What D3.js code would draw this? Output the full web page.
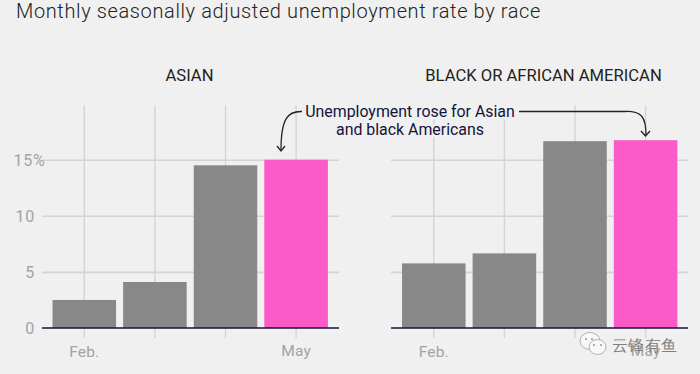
<!DOCTYPE html>
<html><head><meta charset="utf-8">
<script src="https://cdn.jsdelivr.net/npm/d3@7"></script>
<style>
html,body{margin:0;padding:0;background:#f0f0f0;overflow:hidden}
svg{display:block}
text{font-family:Roboto,"Liberation Sans",sans-serif}
</style></head><body>
<svg id="c" width="700" height="374"></svg>
<script>
const months = ["Feb.", "Mar.", "Apr.", "May"];
const monthLabels = ["Feb.", "", "", "May"];
const panelTitles = ["ASIAN", "BLACK OR AFRICAN AMERICAN"];
const asianValues = [2.5, 4.1, 14.5, 15.0];
const blackValues = [5.76, 6.65, 16.65, 16.74];
const yTicks = [0, 5, 10, 15];
const title = "Monthly seasonally adjusted unemployment rate by race";
const noteLines = ["Unemployment rose for Asian", "and black Americans"];
const watermark = "云锋有鱼";

const svg = d3.select("#c");
const ink = "#14143c", grid = "#d4d4d4", tickText = "#a3a3a3", barGrey = "#888888", pink = "#fb5ac8";
svg.append("rect").attr("width",700).attr("height",374).attr("fill","#f0f0f0");

svg.append("text").attr("x",16).attr("y",17.5).attr("font-size",20).attr("font-weight",300).attr("letter-spacing",0.62)
  .attr("fill","#222").text(title);

const y = d3.scaleLinear().domain([0,15]).range([328,159.7]);

function panel(x0, x1, barStart, values, name, showY){
  const x = d3.scaleBand().domain(months).range([barStart, barStart+282.4]).paddingInner(0.1).paddingOuter(0.05);
  const g = svg.append("g");
  g.append("g").attr("transform","translate(0,105.5)")
    .call(d3.axisBottom(x).tickSize(232.5).tickFormat(""))
    .call(s=>{s.select(".domain").remove(); s.selectAll("line").attr("stroke",grid).attr("stroke-width",1.4);});
  g.append("g").attr("transform",`translate(${x0},0)`)
    .call(d3.axisLeft(y).tickValues(yTicks.slice(1)).tickSize(-(x1-x0)).tickFormat(""))
    .call(s=>{s.select(".domain").remove(); s.selectAll("line").attr("stroke",grid).attr("stroke-width",1.6);});
  g.selectAll("rect.bar").data(values).join("rect").attr("class","bar")
    .attr("x",(d,i)=>x(months[i])).attr("width",x.bandwidth())
    .attr("y",d=>y(d)).attr("height",d=>y(0)-y(d))
    .attr("fill",(d,i)=>i===3?pink:barGrey);
  g.append("line").attr("x1",x0).attr("x2",x1).attr("y1",y(0)).attr("y2",y(0)).attr("stroke",ink).attr("stroke-width",1.4);
  g.selectAll("text.m").data(monthLabels).join("text").attr("class","m")
    .attr("x",(d,i)=>x(months[i])+x.bandwidth()/2).attr("y",(d,i)=>i===3?356:357)
    .attr("text-anchor","middle").attr("font-size",15.5).attr("letter-spacing",0.2).attr("fill",tickText).text(d=>d);
  g.append("text").attr("x",(x0+x1)/2-(showY?1:0)+(showY?0:4)).attr("y",81).attr("text-anchor","middle")
    .attr("font-size",16.6).attr("fill","#222").text(name);
  return x;
}
panel(42,339,49,asianValues,panelTitles[0],true);
panel(391,688,398.5,blackValues,panelTitles[1],false);

svg.selectAll("text.y").data(yTicks).join("text").attr("class","y")
  .attr("x",d=>d===15?45.5:35).attr("y",d=>y(d)+6)
  .attr("text-anchor","end").attr("font-size",16).attr("letter-spacing",0.8).attr("fill",tickText)
  .text(d=>d===15?d+"%":d);

svg.selectAll("text.note").data(noteLines).join("text").attr("class","note")
  .attr("x",410).attr("y",(d,i)=>117+i*17.5).attr("text-anchor","middle")
  .attr("font-size",15.9).attr("fill",ink)
  .attr("stroke","#f0f0f0").attr("stroke-width",5).attr("paint-order","stroke").text(d=>d);

const arrow = svg.append("g").attr("fill","none").attr("stroke","#222").attr("stroke-width",1.3);
arrow.append("path").attr("d","M302,111.5 C288,111 281,118 281,150");
arrow.append("path").attr("d","M277,146 L281,151 L285,146");
arrow.append("path").attr("d","M519,111.5 L625,111.5 C641,111 646,116 646,135");
arrow.append("path").attr("d","M641,131 L645.5,136 L650,131");

const wm = svg.append("g");
wm.append("ellipse").attr("cx",590).attr("cy",341).attr("rx",10).attr("ry",8.5).attr("fill","#f8f8f8").attr("stroke","#aaa").attr("stroke-width",0.9);
wm.append("ellipse").attr("cx",597.5).attr("cy",347).attr("rx",8.5).attr("ry",7.5).attr("fill","#f8f8f8").attr("stroke","#aaa").attr("stroke-width",0.9);
wm.selectAll("circle").data([[586,339],[592,339],[594,345],[601,345]]).join("circle")
  .attr("cx",d=>d[0]).attr("cy",d=>d[1]).attr("r",1).attr("fill","#999");
wm.append("text").attr("x",611.5).attr("y",351).attr("font-size",16).attr("letter-spacing",0.6).attr("fill","#808080")
  .attr("font-family","'Noto Sans CJK SC',sans-serif").text(watermark);
</script>
</body></html>
